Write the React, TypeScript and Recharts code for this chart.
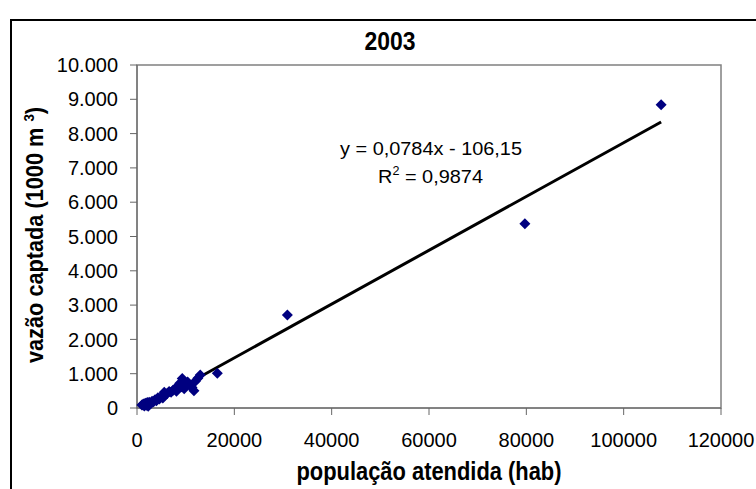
import React from "react";
import { Customized, ReferenceLine, Scatter, ScatterChart, XAxis, YAxis } from "recharts";

// população atendida (hab) x vazão captada (1000 m³), ano 2003
const populacao = [
  1000, 1300, 1500, 1700, 1900, 2100, 2300, 2500, 2800, 3100, 3400, 3700, 4000, 4300, 4600, 5000,
  5300, 5600, 5800, 6200, 6600, 7000, 7400, 7800, 8100, 8500, 8800, 9100, 9300, 9500, 9700, 10000,
  10400, 10800, 11300, 11700, 12000, 12500, 13000, 16500, 30900, 79700, 107700,
];
const vazao = [
  90, 120, 60, 140, 80, 160, 50, 170, 130, 200, 180, 240, 210, 300, 260, 330,
  290, 460, 380, 420, 480, 460, 520, 560, 490, 650, 720, 620, 860, 780, 560, 700,
  760, 680, 600, 500, 780, 870, 960, 1010, 2710, 5370, 8840,
];

const xTicks = [0, 20000, 40000, 60000, 80000, 100000, 120000];
const yTicks = [0, 1000, 2000, 3000, 4000, 5000, 6000, 7000, 8000, 9000, 10000];

// linha de tendência linear: y = 0,0784x - 106,15
const slope = 0.0784;
const intercept = -106.15;
const r2 = "0,9874";

const pontos = populacao.map((x, i) => ({ x, y: vazao[i] }));
const xMin = Math.min(...populacao);
const xMax = Math.max(...populacao);

const fmtMil = (v: number) => String(v).replace(/\B(?=(\d{3})+(?!\d))/g, ".");

const Diamond = (props: any) => {
  const { cx, cy } = props;
  const r = 5.5;
  return <path d={`M${cx},${cy - r}L${cx + r},${cy}L${cx},${cy + r}L${cx - r},${cy}Z`} fill="#000080" />;
};

const Extras = () => (
  <g>
    {/* moldura do gráfico e da área de plotagem */}
    <rect x={11} y={20} width={800} height={500} fill="none" stroke="#000" strokeWidth={2} />
    <rect x={137} y={65} width={584} height={343} fill="none" stroke="#808080" strokeWidth={1.5} />
    <text x={390} y={50} textAnchor="middle" fontWeight="bold" fontSize={26} textLength={51} lengthAdjust="spacingAndGlyphs">
      2003
    </text>
    <text x={340} y={155} fontSize={19} textLength={182} lengthAdjust="spacingAndGlyphs">
      y = 0,0784x - 106,15
    </text>
    <text x={378} y={183} fontSize={19} textLength={105} lengthAdjust="spacingAndGlyphs">
      R<tspan fontSize={12} dy={-8}>2</tspan>
      <tspan dy={8}> = {r2}</tspan>
    </text>
  </g>
);

const XTitle = (props: any) => {
  const { viewBox } = props;
  return (
    <text x={viewBox.x + viewBox.width / 2} y={viewBox.y + 72} textAnchor="middle" fontWeight="bold" fontSize={26} textLength={265} lengthAdjust="spacingAndGlyphs">
      população atendida (hab)
    </text>
  );
};

const YTitle = () => (
  <text x={43} y={235} transform="rotate(-90 43 235)" textAnchor="middle" fontWeight="bold" fontSize={23} textLength={256} lengthAdjust="spacingAndGlyphs">
    vazão captada (1000 m <tspan fontSize={14} dy={-9}>3</tspan>
    <tspan dy={9}>)</tspan>
  </text>
);

export default function App() {
  return (
    <div style={{ position: "absolute", left: 0, top: 0, width: 756, height: 489, background: "#fff", fontFamily: "'Liberation Sans', Arial, sans-serif" }}>
      <ScatterChart width={756} height={489} margin={{ top: 65, right: 35, bottom: 51, left: 57 }}>
        <XAxis
          type="number"
          dataKey="x"
          domain={[0, 120000]}
          ticks={xTicks}
          height={30}
          stroke="#666"
          tickSize={7}
          tickMargin={18}
          tick={{ fill: "#000", fontSize: 20 }}
          label={<XTitle />}
        />
        <YAxis
          type="number"
          dataKey="y"
          domain={[0, 10000]}
          ticks={yTicks}
          width={80}
          stroke="#666"
          tickSize={7}
          tickMargin={12}
          tickFormatter={fmtMil}
          tick={{ fill: "#000", fontSize: 20 }}
        />
        <Scatter data={pontos} shape={<Diamond />} isAnimationActive={false} />
        <ReferenceLine
          segment={[
            { x: xMin, y: slope * xMin + intercept },
            { x: xMax, y: slope * xMax + intercept },
          ]}
          stroke="#000"
          strokeWidth={3}
          ifOverflow="visible"
        />
        <Customized component={Extras} />
        <Customized component={YTitle} />
      </ScatterChart>
    </div>
  );
}
